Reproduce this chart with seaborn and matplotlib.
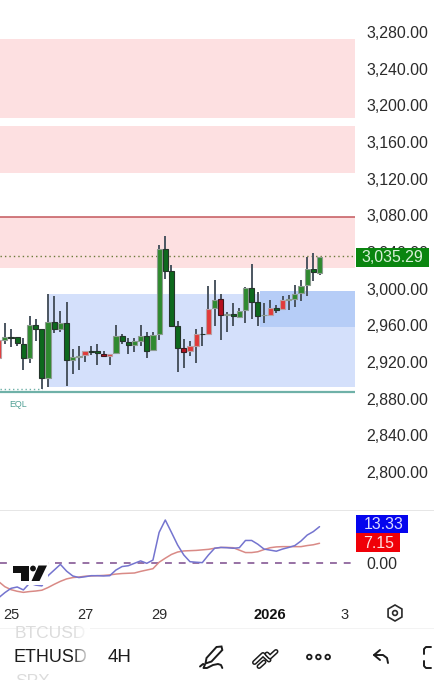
import numpy as np
import pandas as pd
import seaborn as sns
import matplotlib
matplotlib.use('Agg')
import matplotlib.pyplot as plt
import matplotlib.patheffects as pe
from matplotlib.colors import LinearSegmentedColormap
from matplotlib.patches import Circle, Polygon, Rectangle, RegularPolygon

# --- candles (4H ETHUSD) ---
highs = [2948, 2962, 2956, 2947, 2946, 2970, 2967, 2956, 2994, 2992, 2976, 2985, 2934, 2937,
         2932, 2937, 2940, 2932, 2929, 2960, 2951, 2946, 2946, 2960, 2953, 2953, 3048, 3057,
         3026, 2965, 2945, 2943, 2956, 2958, 3003, 3009, 2994, 2975, 2984, 2979, 3002, 3027,
         2996, 2984, 2988, 2982, 2992, 2993, 3004, 3009, 3034, 3039, 3035]
body_tops = [2944, 2947, 2947, 2947, 2940, 2960, 2960, 2956, 2964, 2964, 2963, 2963, 2925, 2927,
             2932, 2932, 2932, 2929, 2929, 2948, 2948, 2942, 2943, 2948, 2948, 2949, 3043, 3043,
             3019, 2959, 2935, 2937, 2951, 2951, 2978, 2988, 2989, 2972, 2972, 2976, 3001, 3001,
             2985, 2971, 2979, 2979, 2988, 2989, 2994, 3003, 3021, 3021, 3034]
body_bottoms = [2924, 2944, 2946, 2941, 2924, 2924, 2956, 2903, 2903, 2956, 2956, 2922, 2922, 2925,
                2928, 2931, 2930, 2926, 2926, 2930, 2943, 2939, 2939, 2943, 2932, 2933, 2950, 3019,
                2959, 2935, 2931, 2932, 2937, 2951, 2951, 2979, 2971, 2971, 2970, 2969, 2977, 2985,
                2970, 2971, 2971, 2977, 2978, 2988, 2989, 2995, 3004, 3018, 3017]
lows = [2920, 2940, 2936, 2937, 2911, 2919, 2943, 2890, 2893, 2952, 2953, 2894, 2907, 2911,
        2920, 2928, 2917, 2925, 2917, 2929, 2940, 2929, 2931, 2937, 2924, 2932, 2944, 3010,
        2958, 2909, 2913, 2926, 2919, 2937, 2951, 2959, 2944, 2953, 2959, 2969, 2963, 2967,
        2959, 2962, 2971, 2973, 2977, 2977, 2980, 2987, 2992, 3008, 3015]
kinds = list("rgGGGgGGgGgGggrGGRrgGGggGggGGGRrrGrgRgGggGGgrGrggggGg")

# --- oscillator panel ---
fast_line = [-13.1, -11.2, -9.6, -9.1, -10.2, -7.7, -8.4, -8.7, -4.9, -2.8, -0.7, -3.2, -5.0, -5.6,
             -5.3, -4.9, -4.9, -5.0, -4.9, -2.8, -1.5, -1.2, -0.3, 0.6, -0.3, 0.9, 11.2, 15.8,
             11.2, 6.5, 2.8, 0.3, 0.1, -0.05, 2.8, 5.3, 5.6, 5.5, 5.3, 5.5, 8.2, 8.2,
             6.8, 5.0, 4.6, 4.2, 5.0, 5.6, 6.3, 8.0, 10.2, 11.5, 13.33]
slow_line = [-7.1, -9.0, -10.1, -10.7, -11.1, -10.8, -10.6, -10.3, -9.3, -8.1, -7.0, -6.1, -5.6, -5.4,
             -5.1, -5.0, -4.9, -4.8, -4.6, -4.3, -4.1, -4.0, -3.9, -3.3, -2.8, -2.3, 0.1, 1.6,
             3.0, 3.9, 4.3, 4.4, 4.5, 4.7, 4.9, 5.3, 5.6, 5.6, 5.5, 4.6, 3.7, 3.7,
             4.0, 4.8, 5.5, 5.8, 5.9, 5.9, 5.9, 5.9, 6.3, 6.6, 7.15]

# --- axes labels and levels ---
price_ticks = [3280, 3240, 3200, 3160, 3120, 3080, 3040, 3000, 2960, 2920, 2880, 2840, 2800]
date_positions = [2, 14, 26, 44, 56]
date_labels = ["25", "27", "29", "2026", "3"]
pink_zones = [(3186, 3272.5), (3126, 3177.5), (3022.5, 3078)]
blue_zone = (8, 2893, 2994)
dark_blue_zone = (42.3, 2958.5, 2997)
red_level = 3078
last_price = 3035.29
eql_level = 2887.7
eql_dots = 2890

sns.set_theme(style="white")
plt.rcParams['font.family'] = ['Liberation Sans', 'DejaVu Sans']

fig = plt.figure(figsize=(4.35, 6.8), dpi=100)
W, H = 435, 680


def px_axes(x0, y0, x1, y1):
    return fig.add_axes([x0 / W, 1 - y1 / H, (x1 - x0) / W, (y1 - y0) / H])


xlim = (0.21, 57.75)
bars = np.arange(len(highs))

# --- price panel ---
ax = px_axes(0, 0, 355, 505)
ax.set_xlim(xlim)
ax.set_ylim(2764, 3314.9)
for lo, hi in pink_zones:
    ax.axhspan(lo, hi, color="#fde0e1", lw=0, zorder=1)
ax.add_patch(Rectangle((blue_zone[0], blue_zone[1]), xlim[1] - blue_zone[0], blue_zone[2] - blue_zone[1],
                       color="#d4e0fb", lw=0, zorder=1))
ax.add_patch(Rectangle((dark_blue_zone[0], dark_blue_zone[1]), xlim[1] - dark_blue_zone[0],
                       dark_blue_zone[2] - dark_blue_zone[1], color="#b6cdf7", lw=0, zorder=1.1))
ax.axhline(red_level, color="#c4575c", lw=1.1, zorder=2)
ax.axhline(eql_level, color="#6fb1a8", lw=1.6, zorder=2)
ax.plot([0.21, 7], [eql_dots, eql_dots], color="#6fb1a8", lw=1.0, ls=(0, (1, 2)), zorder=2)
ax.axhline(last_price, color="#6b7a3a", lw=1.0, ls=(0, (1, 2.2)), zorder=2)
ax.text(1.7, 2874, "EQL", color="#4f9f94", fontsize=6.4, va="center", ha="left")

fills = {"g": "#2f8a2f", "G": "#0d691d", "r": "#e23a3a", "R": "#b5101f"}
edges = {"g": "#8c9c90", "G": "#24352a", "r": "#b9a0a4", "R": "#3c1a20"}
ax.vlines(bars, lows, highs, color="#4b5560", lw=1.4, zorder=3)
ax.bar(bars, np.array(body_tops) - np.array(body_bottoms), bottom=body_bottoms, width=0.84,
       color=[fills[k] for k in kinds], edgecolor=[edges[k] for k in kinds], linewidth=0.8, zorder=4)

ax.yaxis.tick_right()
ax.set_yticks(price_ticks)
ax.set_yticklabels([f"{p:,.2f}" for p in price_ticks])
ax.tick_params(axis="y", length=0, pad=8, labelsize=11.4, labelcolor="#2b2b2b")
ax.set_xticks([])
sns.despine(ax=ax, left=True, right=True, top=True, bottom=True)

# --- oscillator panel ---
osc = pd.DataFrame({"bar": bars, "fast": fast_line, "slow": slow_line})
ax2 = px_axes(0, 511, 355, 600)
sns.lineplot(data=osc, x="bar", y="slow", color="#d98a86", lw=1.1, ax=ax2, zorder=2)
sns.lineplot(data=osc, x="bar", y="fast", color="#7474cf", lw=1.1, ax=ax2, zorder=3)
ax2.axhline(0, color="#7b4a8c", lw=1.1, ls=(0, (4.5, 4.5)), zorder=1)
ax2.set_xlim(xlim)
ax2.set_ylim(-13.94, 19.15)
ax2.set_xlabel("")
ax2.set_ylabel("")
ax2.yaxis.tick_right()
ax2.set_yticks([0])
ax2.set_yticklabels(["0.00"])
ax2.tick_params(axis="y", length=0, pad=8, labelsize=11.4, labelcolor="#2b2b2b")
ax2.set_xticks(date_positions)
ax2.set_xticklabels(date_labels)
ax2.tick_params(axis="x", length=0, pad=6, labelsize=10.5, labelcolor="#2b2b2b")
ax2.get_xticklabels()[3].set_fontweight("bold")
ax2.get_xticklabels()[3].set_color("#111111")
sns.despine(ax=ax2, left=True, right=True, top=True, bottom=True)

# --- overlay in pixel coordinates: tags, logo, toolbar ---
ui = fig.add_axes([0, 0, 1, 1], zorder=10)
ui.patch.set_alpha(0)
ui.set_xlim(0, W)
ui.set_ylim(H, 0)
ui.axis("off")

ui.add_patch(Rectangle((0, 509.5), W, 1.6, color="#e6e6e6", lw=0))
ui.add_patch(Rectangle((0, 627.5), W, 1, color="#f3f3f3", lw=0))

ui.add_patch(Rectangle((356, 248), 73, 19, color="#0a850f", lw=0))
ui.text(392.5, 257.7, "3,035.29", color="#d8f0d8", fontsize=11.4, ha="center", va="center")
ui.add_patch(Rectangle((356, 515), 52, 18.3, color="#0505ee", lw=0))
ui.text(384, 524.5, "13.33", color="#dcdcff", fontsize=11.4, ha="center", va="center")
ui.add_patch(Rectangle((356, 533.3), 44, 18.7, color="#f00008", lw=0))
ui.text(379, 543, "7.15", color="#ffdcdc", fontsize=11.4, ha="center", va="center")

# TradingView mark with its white halo
ui.add_patch(Rectangle((12, 560), 36, 25, color="white", lw=0))
ui.add_patch(Polygon([(13.5, 565.5), (29.5, 565.5), (29.5, 581), (21, 581), (21, 572.5), (13.5, 572.5)],
                     color="#111111", lw=0))
ui.add_patch(Circle((33, 568.5), 2.9, color="#111111", lw=0))
ui.add_patch(Polygon([(38.5, 565.5), (47, 565.5), (39.5, 581), (31.5, 581)], color="#111111", lw=0))

# toolbar symbols
ui.text(15, 633.5, "BTCUSD", color="#dcdcdc", fontsize=12.5, ha="left", va="center")
ui.text(15, 681, "SPX", color="#dcdcdc", fontsize=12.5, ha="left", va="center")
ui.text(14, 658, "ETHUSD", color="#1c1c1c", fontsize=13, ha="left", va="center")
ui.text(108, 658, "4H", color="#1c1c1c", fontsize=13.5, ha="left", va="center")
fade = LinearSegmentedColormap.from_list("fade", [(1, 1, 1, 0), (1, 1, 1, 1)])
ui.imshow(np.linspace(0, 1, 32).reshape(1, -1), cmap=fade, extent=(72, 90, 670, 625), aspect="auto", zorder=5)
ui.set_xlim(0, W)
ui.set_ylim(H, 0)

icon = dict(color="#1c1c1c", lw=1.4, solid_capstyle="round", solid_joinstyle="round")
ui.add_patch(Polygon([(206.5, 658), (216.5, 647), (221.5, 646.5), (222.3, 650), (211.5, 661.5), (205.5, 663.5)],
                     fill=False, ec="#1c1c1c", lw=1.4))
ui.plot([200, 203, 205, 203.5, 207, 213, 218, 221, 222.3],
        [666.5, 664, 664.5, 668, 668, 665, 664, 665, 668], **icon)

# chevron pair: black strokes with a white core so they read as outlines
outline = [pe.Stroke(linewidth=3.6, foreground="#1c1c1c"), pe.Stroke(linewidth=1.4, foreground="white")]
for xs, ys in [([254.5, 263, 269], [662.5, 654.5, 660]),
               ([259, 264], [666.5, 662]),
               ([267, 270, 276], [654, 657, 651.5])]:
    ui.plot(xs, ys, color="#1c1c1c", lw=3.6, solid_capstyle="round", path_effects=outline)

for cx in (309.3, 318.4, 327.7):
    ui.add_patch(Circle((cx, 657), 2.3, fill=False, ec="#1c1c1c", lw=1.3))
ui.plot([380, 374, 380], [650, 655, 660], **icon)
ui.plot([374, 383, 387, 388], [655, 655, 658, 663], **icon)
ui.plot([431, 426, 424, 424], [647, 647, 649, 654], **icon)
ui.plot([424, 424, 426, 431], [661, 666, 668, 668], **icon)
ui.add_patch(RegularPolygon((395, 613), 6, radius=8, fill=False, ec="#2b2b2b", lw=1.2))
ui.add_patch(Circle((395, 613), 2.4, fill=False, ec="#2b2b2b", lw=1.2))

plt.savefig("out.png", dpi=100)
plt.close()
